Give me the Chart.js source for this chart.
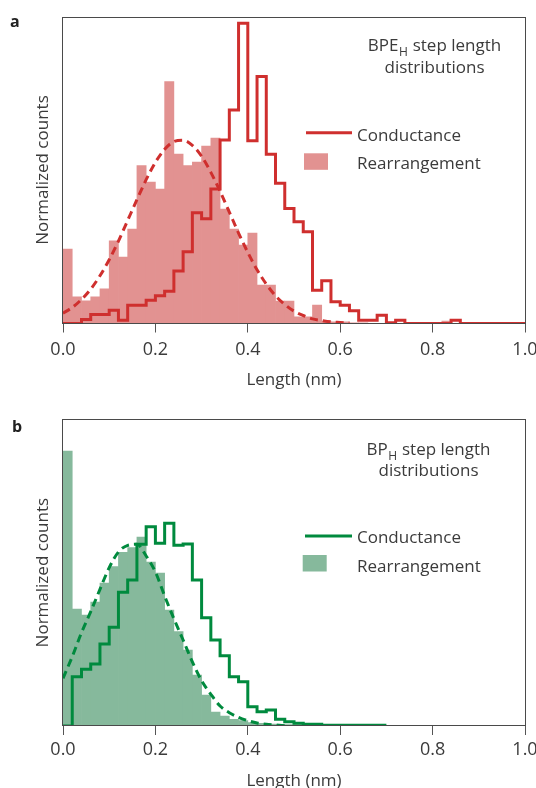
<!DOCTYPE html>
<html><head><meta charset="utf-8">
<script src="https://cdn.jsdelivr.net/npm/chart.js@4/dist/chart.umd.min.js"></script>
<style>
html,body{margin:0;padding:0;background:#fff;overflow:hidden;width:536px;height:788px;}
#wa{position:absolute;left:0;top:0;width:536px;height:394px;}
#wb{position:absolute;left:0;top:394px;width:536px;height:404px;}
canvas{display:block;}
</style></head><body>
<div id="wa"><canvas id="ca" width="536" height="394"></canvas></div>
<div id="wb"><canvas id="cb" width="536" height="404"></canvas></div>
<script>
// Bin edges (nm), 0.02 nm bins
const binEdges = [0.00,0.02,0.04,0.06,0.08,0.10,0.12,0.14,0.16,0.18,0.20,0.22,0.24,0.26,0.28,0.30,0.32,0.34,0.36,0.38,0.40,0.42,0.44,0.46,0.48,0.50,0.52,0.54,0.56,0.58,0.60,0.62,0.64,0.66,0.68,0.70,0.72,0.74,0.76,0.78,0.80,0.82,0.84,0.86,0.88,0.90,0.92,0.94,0.96,0.98,1.00];
const xTicks = [0.0,0.2,0.4,0.6,0.8,1.0];

// Panel a (BPE_H): normalized counts per bin (axis full height = 920)
const conductanceA = [0,0,12,27,27,40,10,55,55,70, 83,97,157,215,332,314,403,550,640,900, 548,740,507,420,345,305,275,100,128,65, 55,38,10,10,25,2,10,0,0,0, 0,0,10,0,0,0,0,0,0,0];
const rearrangementA = [223,80,68,80,104,248,199,283,473,424, 403,725,508,473,484,532,556,343,283,235, 271,115,115,67,67,20,20,55,7,5, 5,2,2,0,0,0,0,0,0,0, 0,7,0,0,0,0,0,0,0,0];
const fitXA = [0.00,0.02,0.04,0.06,0.08,0.10,0.12,0.14,0.16,0.18,0.20,0.22,0.24,0.26,0.28,0.30,0.32,0.34,0.36,0.38,0.40,0.42,0.44,0.46,0.48,0.50,0.52,0.54,0.56,0.58,0.60,0.62];
const fitA = [31,48,72,103,143,191,247,309,371,431,483,522,545,549,534,501,453,396,334,271,213,161,118,83,57,37,24,14,9,5,3,1];

// Panel b (BP_H)
const conductanceB = [0,148,170,186,246,296,401,438,545,598, 548,608,542,546,438,325,258,211,148,133, 58,43,48,20,13,8,5,5,2,2, 2,2,2,2,2];
const rearrangementB = [825,351,333,372,429,478,521,535,567,492, 459,348,283,228,153,93,42,30,20,16, 10,8,6,5,4,4,3,3,3,2, 3,2,2,0,0,0,0,0,0,0, 0,0,0,0,0,0,0,0,0,0];
const fitXB = [0.00,0.02,0.04,0.06,0.08,0.10,0.12,0.14,0.16,0.18,0.20,0.22,0.24,0.26,0.28,0.30,0.32,0.34,0.36,0.38,0.40,0.42,0.44,0.46,0.48];
const fitB = [143,208,280,343,410,475,522,542,545,510,462,390,322,258,192,136,95,60,40,26,16,9,5,3,1];

const FONT = '"Open Sans", "DejaVu Sans", sans-serif';
const TXT = '#3b3b3b';

function barPts(vals){
  const out=[];
  vals.forEach((v,k)=>{ if(v>0) out.push({x:(binEdges[k]+binEdges[k+1])/2, y:v}); });
  return out;
}
function stepPts(vals){
  const out = vals.map((v,k)=>({x:binEdges[k], y:v}));
  out.push({x:binEdges[vals.length], y:vals[vals.length-1]});
  return out;
}
function fitPts(xs, vals){ return vals.map((v,k)=>({x:xs[k], y:v})); }

function decoPlugin(p){
  return {
    id:'deco'+p.tag,
    afterDatasetsDraw(chart){
      const ctx=chart.ctx, ca=chart.chartArea;
      ctx.save();
      // frame
      ctx.strokeStyle='#4a4a4a'; ctx.lineWidth=1;
      ctx.strokeRect(Math.round(ca.left)-0.5, Math.round(ca.top)+0.5, Math.round(ca.right)-Math.round(ca.left)+1, Math.round(ca.bottom)-Math.round(ca.top)-1);
      // panel letter
      ctx.fillStyle='#222'; ctx.font='bold 16px '+FONT; ctx.textAlign='left'; ctx.textBaseline='alphabetic';
      ctx.fillText(p.letter, p.letterX, p.letterY);
      // annotation title with subscript
      ctx.fillStyle=TXT;
      ctx.font='17px '+FONT;
      const w1=ctx.measureText(p.main).width;
      ctx.font='12px '+FONT;
      const w2=ctx.measureText('H').width;
      ctx.font='17px '+FONT;
      const w3=ctx.measureText(' step length').width;
      let x0=p.titleCX-(w1+w2+w3+1)/2;
      ctx.fillText(p.main, x0, p.titleY1);
      ctx.font='12px '+FONT;
      ctx.fillText('H', x0+w1+0.5, p.titleY1+5);
      ctx.font='17px '+FONT;
      ctx.fillText(' step length', x0+w1+w2+1, p.titleY1);
      ctx.textAlign='center';
      ctx.fillText('distributions', p.titleCX, p.titleY2);
      // legend
      ctx.strokeStyle=p.line; ctx.lineWidth=3; ctx.beginPath();
      ctx.moveTo(p.lgX1, p.lgLineY); ctx.lineTo(p.lgX2, p.lgLineY); ctx.stroke();
      ctx.fillStyle=p.fill; ctx.fillRect(p.sqX, p.sqY, 24, 16.5);
      ctx.fillStyle=TXT; ctx.textAlign='left'; ctx.font='17px '+FONT;
      ctx.fillText('Conductance', 357, p.lgT1);
      ctx.fillText('Rearrangement', 357, p.lgT2);
      ctx.restore();
    }
  };
}

function makeChart(id, p){
  return new Chart(document.getElementById(id), {
    type:'bar',
    data:{datasets:[
      {type:'line', label:'Conductance', data:stepPts(p.cond), stepped:true, borderColor:p.line, borderWidth:3, pointRadius:0, fill:false, order:1, borderJoinStyle:'miter'},
      {type:'line', label:'Fit', data:fitPts(p.fitX,p.fit), borderColor:p.line, borderWidth:3, borderDash:[8,5], pointRadius:0, fill:false, cubicInterpolationMode:'monotone', order:2},
      {type:'bar', label:'Rearrangement', data:barPts(p.rear), backgroundColor:p.fill, borderWidth:0, barPercentage:1, categoryPercentage:1, grouped:false, order:3}
    ]},
    options:{
      responsive:false, animation:false, devicePixelRatio:1,
      layout:{padding:{left:0,right:11,top:p.padTop,bottom:0}},
      plugins:{legend:{display:false}, tooltip:{enabled:false}},
      scales:{
        x:{type:'linear', min:0, max:1, offset:false,
          afterBuildTicks(s){ s.ticks = xTicks.map(v=>({value:v})); },
          ticks:{font:{family:FONT,size:18}, color:TXT, padding:p.tickPad, maxRotation:0, autoSkip:false, callback:v=>Number(v).toFixed(1)},
          grid:{display:true, drawOnChartArea:false, drawTicks:true, tickLength:9, color:'#555', tickColor:'#555', offset:false},
          border:{display:false},
          title:{display:true, text:'Length (nm)', font:{family:FONT,size:17}, color:TXT, padding:{top:0,bottom:p.titlePadB}},
          afterFit(s){ s.height=p.axisH; s.paddingLeft=0; s.paddingRight=0; }
        },
        y:{min:0, max:920, ticks:{display:false}, grid:{display:false, drawTicks:false}, border:{display:false},
          title:{display:true, text:'Normalized counts', font:{family:FONT,size:17}, color:TXT, padding:{top:32.8,bottom:0}},
          afterFit(s){ s.width=63; }
        }
      }
    },
    plugins:[decoPlugin(p)]
  });
}

function drawAll(){
  makeChart('ca', {tag:'a', cond:conductanceA, rear:rearrangementA, fitX:fitXA, fit:fitA,
    line:'#cf2f2e', fill:'#e29291', padTop:16.5, axisH:70.5, tickPad:6.7, titlePadB:3.8,
    letter:'a', letterX:10, letterY:26.5, main:'BPE', titleCX:434.5, titleY1:50.7, titleY2:73.3,
    lgX1:306, lgX2:352, lgLineY:132.7, sqX:304, sqY:153.3, lgT1:140.5, lgT2:169.3});
  makeChart('cb', {tag:'b', cond:conductanceB, rear:rearrangementB, fitX:fitXB, fit:fitB,
    line:'#008a3e', fill:'#86b99c', padTop:25.3, axisH:72, tickPad:4.2, titlePadB:6.3,
    letter:'b', letterX:12, letterY:37.7, main:'BP', titleCX:428.5, titleY1:61, titleY2:82,
    lgX1:305, lgX2:352, lgLineY:142, sqX:302.7, sqY:161, lgT1:148.7, lgT2:177.7});
}
if (document.fonts && document.fonts.load) {
  Promise.all([document.fonts.load('17px "Open Sans"'), document.fonts.load('bold 16px "Open Sans"')]).then(drawAll, drawAll);
} else drawAll();
</script>
</body></html>
